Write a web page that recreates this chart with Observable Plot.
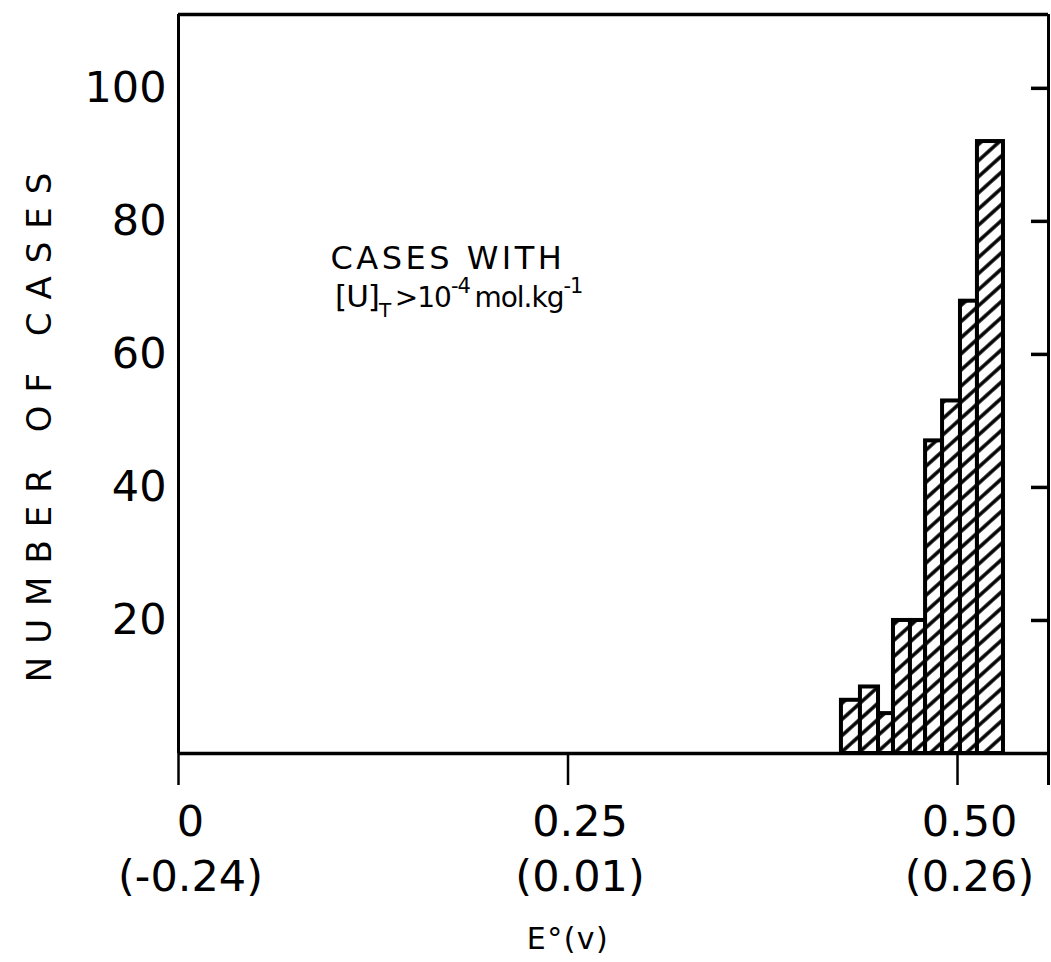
<!DOCTYPE html>
<html>
<head>
<meta charset="utf-8">
<script src="https://cdn.jsdelivr.net/npm/d3@7"></script>
<script src="https://cdn.jsdelivr.net/npm/@observablehq/plot@0.6"></script>
<style>
  html, body { margin: 0; padding: 0; background: #fff; }
  svg { font-family: "DejaVu Sans", sans-serif; }
</style>
</head>
<body>
<div id="chart"></div>
<script>
// Bin edges of E° (V) and number of cases
const binStart = [0.4255, 0.4377, 0.4493, 0.4589, 0.4698, 0.4795, 0.4904, 0.5019, 0.5128];
const binEnd   = [0.4377, 0.4493, 0.4589, 0.4698, 0.4795, 0.4904, 0.5019, 0.5128, 0.5295];
const cases    = [8, 10, 6, 20, 20, 47, 53, 68, 92];

const xTicks = [0, 0.25, 0.50];
const xTickLabels = ["0\n(-0.24)", "0.25\n(0.01)", "0.50\n(0.26)"];
const yTicks = [20, 40, 60, 80, 100];
const xMax = 0.5584;
const yMax = 111.1;

const bins = binStart.map((s, i) => ({x1: s, x2: binEnd[i], count: cases[i]}));

const chart = Plot.plot({
  width: 1051,
  height: 962,
  marginLeft: 178,
  marginRight: 3,
  marginTop: 14,
  marginBottom: 209,
  x: {domain: [0, xMax]},
  y: {domain: [0, yMax]},
  style: {fontFamily: "DejaVu Sans, sans-serif", color: "black", background: "white"},
  marks: [
    Plot.rectY(bins, {x1: "x1", x2: "x2", y: "count", fill: "url(#hatch)", stroke: "black", strokeWidth: 4, inset: 0}),
    Plot.axisY(yTicks, {anchor: "left", tickSize: 0, tickPadding: 12, fontSize: 43, label: null}),
    Plot.axisY(yTicks, {anchor: "right", tickSize: -18, tickFormat: () => "", strokeWidth: 3.5, label: null}),
    Plot.axisX(xTicks, {anchor: "bottom", tickSize: 32, strokeWidth: 2.5, tickFormat: () => "", label: null}),
    Plot.axisX(xTicks, {anchor: "bottom", tickSize: 0, tickPadding: 44, fontSize: 43, dx: 12,
      tickFormat: (d) => xTickLabels[xTicks.indexOf(d)], lineHeight: 1.27, label: null}),
    Plot.axisX([xMax], {anchor: "bottom", tickSize: 32, tickFormat: () => "", strokeWidth: 3, label: null}),
    Plot.ruleX([0], {strokeWidth: 3}),
    Plot.ruleY([0], {strokeWidth: 3.5}),
    Plot.ruleY([yMax], {strokeWidth: 3.5}),
    Plot.ruleX([xMax], {strokeWidth: 3}),
    Plot.text(["CASES WITH"], {x: 0.0975, y: 74.4, text: d => d, textAnchor: "start", fontSize: 32, className: "note1"}),
    Plot.text(["NOTE2"], {x: 0.1005, y: 68.4, text: d => d, textAnchor: "start", fontSize: 28, className: "note2"}),
    Plot.text(["E°(v)"], {x: 0.25, y: 0, dy: 186, text: d => d, fontSize: 30, className: "xlab"}),
    Plot.text(["NUMBER OF CASES"], {x: 0, y: 50, dx: -138, rotate: -90, text: d => d, fontSize: 34, className: "ylab"})
  ]
});

// hatch pattern
const svg = d3.select(chart.tagName.toLowerCase() === "svg" ? chart : chart.querySelector("svg"));
const defs = svg.insert("defs", ":first-child");
const pat = defs.append("pattern")
  .attr("id", "hatch")
  .attr("patternUnits", "userSpaceOnUse")
  .attr("width", 12).attr("height", 12)
  .attr("patternTransform", "rotate(-42)");
pat.append("rect").attr("width", 12).attr("height", 12).attr("fill", "white");
pat.append("line").attr("x1", 0).attr("y1", 6).attr("x2", 12).attr("y2", 6)
  .attr("stroke", "black").attr("stroke-width", 3.5);

// letter spacing of the hand-lettered labels
svg.selectAll(".ylab text").attr("letter-spacing", "13px");
svg.selectAll(".note1 text").attr("letter-spacing", "3.5px");
svg.selectAll(".xlab text").attr("letter-spacing", "1.5px");

// sub/superscripts in the note
svg.selectAll(".note2 text").each(function() {
  const t = d3.select(this);
  t.text(null).attr("letter-spacing", "-1px");
  t.append("tspan").attr("font-size", 31).text("[U]");
  t.append("tspan").attr("dy", 10).attr("font-size", 20).text("T");
  t.append("tspan").attr("dy", -10).text("\u2009>10");
  t.append("tspan").attr("dy", -14).attr("font-size", 21).text("-4");
  t.append("tspan").attr("dy", 14).text("\u2009mol.kg");
  t.append("tspan").attr("dy", -14).attr("font-size", 21).text("-1");
});

document.getElementById("chart").appendChild(chart);
</script>
</body>
</html>
